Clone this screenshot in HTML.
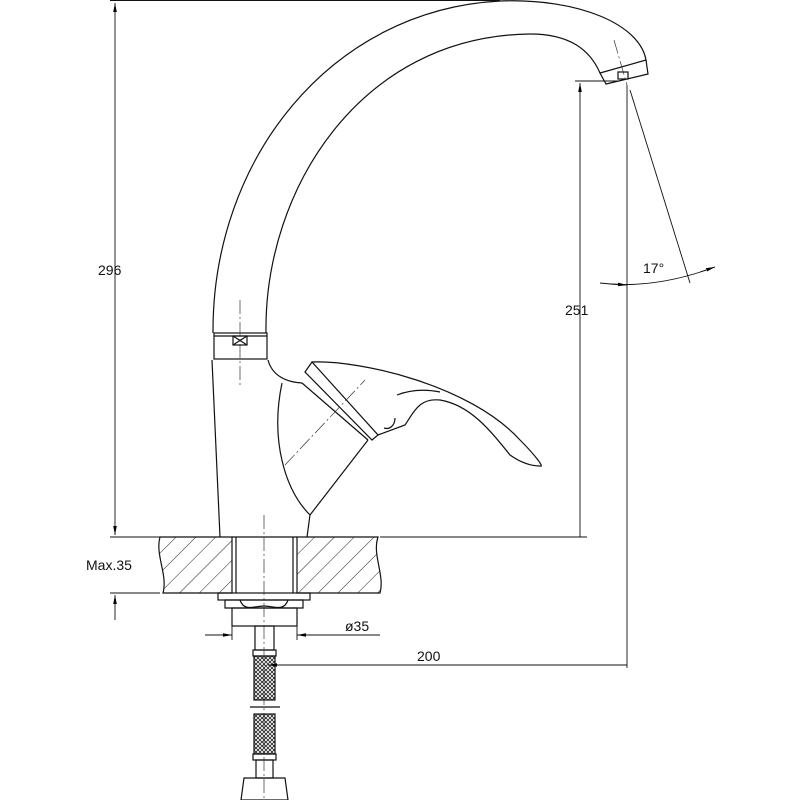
<!DOCTYPE html>
<html><head><style>body{margin:0;background:#fff}svg{display:block}</style></head><body>
<svg width="800" height="800" viewBox="0 0 800 800" xmlns="http://www.w3.org/2000/svg" font-family="Liberation Sans, sans-serif">
<defs>
<pattern id="h" width="14" height="14" patternUnits="userSpaceOnUse" patternTransform="rotate(45)"><line x1="0" y1="0" x2="0" y2="14" stroke="#222" stroke-width="1"/></pattern>
<pattern id="m" width="4" height="4" patternUnits="userSpaceOnUse"><path d="M0 0L4 4M4 0L0 4" stroke="#222" stroke-width="0.8"/></pattern>
<marker id="a" viewBox="0 0 10 10" refX="10" refY="5" markerWidth="9" markerHeight="9" orient="auto-start-reverse" markerUnits="userSpaceOnUse"><path d="M0 3L10 5L0 7z" fill="#000"/></marker>
</defs>
<g fill="none" stroke="#111" stroke-width="1.2">
<path d="M213,333 C212,160 330,10 500,1 C580,-2 640,25 646,60"/>
<path d="M266,333 C264,190 360,36 530,34 C570,34 590,50 600,73"/>
<path d="M600,73 L646,60 L648,74 L606,84 Z"/>
<rect x="618" y="72" width="10" height="7"/>
<rect x="214" y="333" width="53" height="26"/>
<line x1="214" y1="336" x2="267" y2="336"/>
<rect x="233" y="336" width="14" height="9"/><path d="M233,336L247,345M247,336L233,345"/>
<path d="M212,360 L220,537"/>
<path d="M268,360 C272,375 285,382 302,383"/>
<path d="M282,383 C270,440 285,490 310,515 L307,537"/>
<path d="M310,515 L368,440"/>
<path d="M302,383 L368,440"/>
<!-- cap -->
<path d="M305,372 L312,362 L378,435 L372,440 Z"/>
<!-- lever blade -->
<path d="M312,362 C360,360 470,385 520,440 C535,455 545,468 540,466 C530,466 520,462 510,455 C490,430 470,405 440,400 C420,398 415,410 405,425 L378,435"/>
<path d="M397,395 C410,390 425,389 440,392"/>
<path d="M384,428 C390,430 395,425 395,418"/>
<rect x="160" y="537" width="0" height="0"/>
<path d="M160,537 L232,537 L232,593 L163,593 C168,575 155,555 160,537Z" fill="url(#h)"/>
<path d="M297,537 L378,537 C372,555 385,575 380,593 L297,593Z" fill="url(#h)"/>
<line x1="236" y1="537" x2="236" y2="593"/><line x1="293" y1="537" x2="293" y2="593"/>
<line x1="232" y1="537" x2="297" y2="537"/>
<rect x="218" y="593" width="92" height="7"/>
<path d="M225,600 L303,600 L303,608 L225,608 Z"/>
<path d="M240,600 C244,612 254,606 264,606 C274,606 284,612 288,600"/>
<rect x="232" y="608" width="65" height="18"/>
<rect x="255" y="626" width="19" height="24"/>
<rect x="253" y="650" width="23" height="6"/>
<rect x="254" y="656" width="21" height="44" fill="url(#m)"/>
<rect x="254" y="714" width="21" height="40" fill="url(#m)"/>
<line x1="250" y1="707" x2="280" y2="707"/>
<rect x="253" y="754" width="23" height="6"/>
<rect x="256" y="760" width="17" height="18"/>
<path d="M244,778 L285,778 L288,800 L241,800Z"/>
</g>
<g stroke="#333" stroke-width="0.7" stroke-dasharray="14,3,2,3" fill="none">
<line x1="240" y1="300" x2="240" y2="385"/>
<line x1="264" y1="515" x2="264" y2="800"/>
<line x1="285" y1="465" x2="365" y2="380"/>
<line x1="614" y1="40" x2="627" y2="85"/>
</g>
<g stroke="#111" stroke-width="0.9" fill="none">
<line x1="110" y1="0.5" x2="500" y2="0.5"/>
<line x1="110" y1="537" x2="215" y2="537"/>
<line x1="380" y1="537" x2="587" y2="537"/>
<line x1="115" y1="3" x2="115" y2="535" marker-start="url(#a)" marker-end="url(#a)"/>
<line x1="110" y1="593" x2="160" y2="593"/>
<line x1="115" y1="620" x2="115" y2="595" marker-end="url(#a)"/>
<line x1="575" y1="81" x2="620" y2="81"/>
<line x1="580" y1="537" x2="580" y2="83" marker-end="url(#a)"/>
<line x1="627" y1="85" x2="627" y2="668"/>
<line x1="630" y1="90" x2="690" y2="283"/>
<path d="M600,283 C640,288 680,280 715,267"/>
<line x1="610" y1="284" x2="627" y2="285" marker-end="url(#a)"/>
<line x1="700" y1="272" x2="715" y2="267" marker-end="url(#a)"/>
<line x1="205" y1="635" x2="232" y2="635" marker-end="url(#a)"/>
<line x1="380" y1="635" x2="297" y2="635" marker-end="url(#a)"/>
<line x1="232" y1="626" x2="232" y2="640"/><line x1="297" y1="626" x2="297" y2="640"/>
<line x1="627" y1="665" x2="268" y2="665" marker-end="url(#a)"/>
</g>
<g fill="#111" font-size="14">
<text x="98" y="275">296</text>
<text x="86" y="570">Max.35</text>
<text x="565" y="315">251</text>
<text x="643" y="273">17°</text>
<text x="345" y="631">ø35</text>
<text x="417" y="661">200</text>
</g>
</svg>
</body></html>
